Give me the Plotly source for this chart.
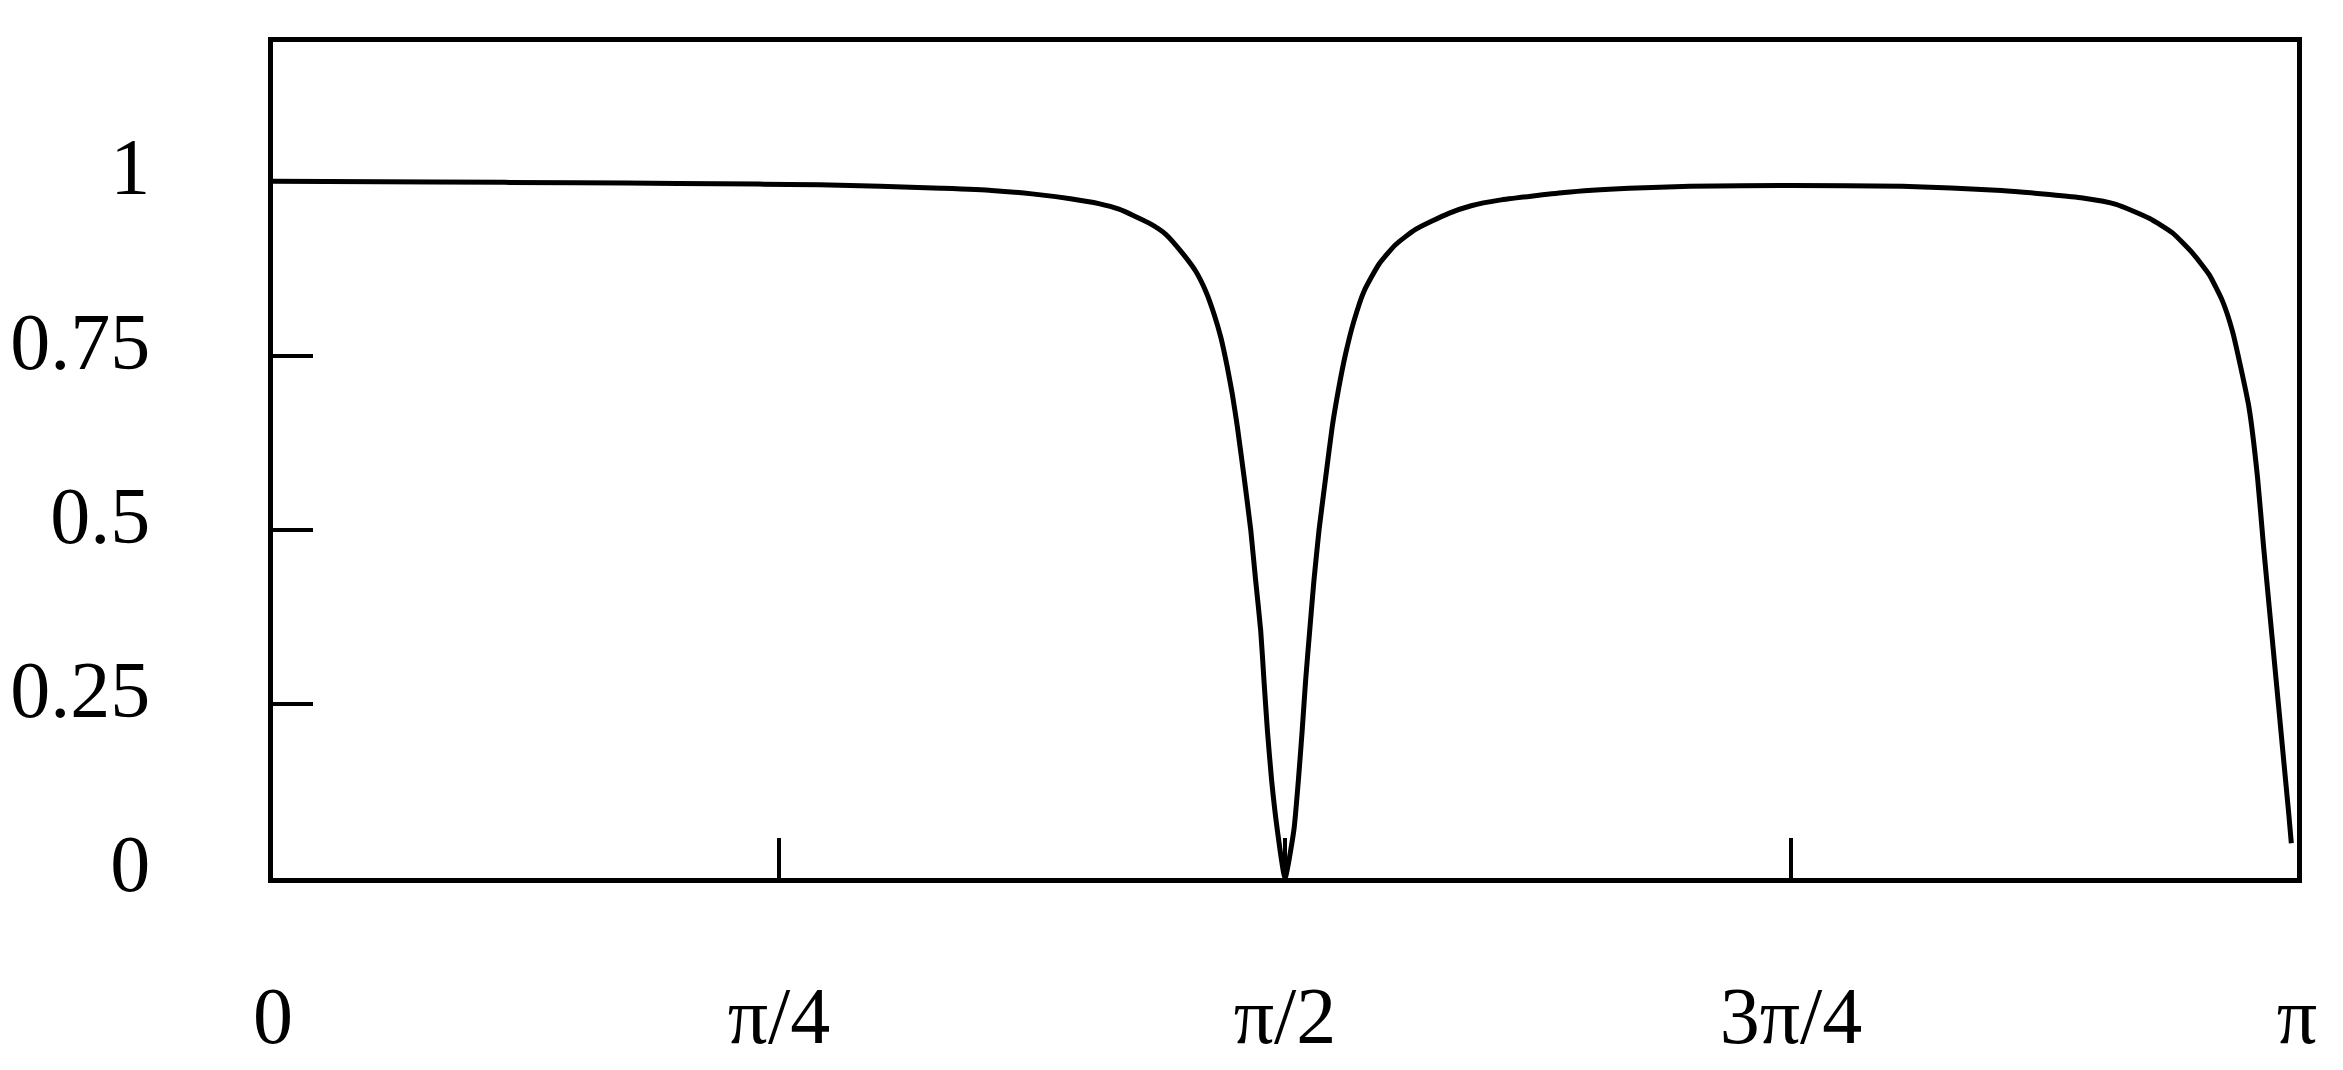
import math

import plotly.graph_objects as go

# curve: x given as fraction of pi, y value
x_over_pi = [
    0.000, 0.080, 0.150, 0.200, 0.240, 0.270, 0.300, 0.330, 0.355, 0.375,
    0.394, 0.408, 0.418, 0.4329, 0.4411, 0.4493, 0.4559, 0.4609, 0.4650, 0.4683,
    0.4715, 0.4740, 0.4765, 0.4798, 0.4831, 0.4855, 0.4880, 0.4896, 0.4913, 0.4934,
    0.4962, 0.5000, 0.5044, 0.5066, 0.5085, 0.5102, 0.5122, 0.5143, 0.5168, 0.5201,
    0.5233, 0.5266, 0.5299, 0.5340, 0.5390, 0.5464, 0.5546, 0.5645, 0.5809, 0.592,
    0.606, 0.638, 0.670, 0.700, 0.750, 0.805, 0.854, 0.8777, 0.8941, 0.9106,
    0.9270, 0.9385, 0.9484, 0.9566, 0.9632, 0.9681, 0.9722, 0.9763, 0.9805, 0.9835,
    0.9866, 0.9897, 0.9928, 0.9959, 0.9972,
]
y_values = [
    1.000, 0.999, 0.998, 0.997, 0.996, 0.995, 0.993, 0.990, 0.987, 0.982,
    0.975, 0.968, 0.960, 0.940, 0.924, 0.897, 0.871, 0.842, 0.809, 0.776,
    0.733, 0.694, 0.647, 0.575, 0.499, 0.427, 0.355, 0.284, 0.212, 0.140,
    0.069, 0.000, 0.069, 0.140, 0.212, 0.284, 0.355, 0.427, 0.499, 0.575,
    0.647, 0.704, 0.752, 0.799, 0.842, 0.881, 0.909, 0.931, 0.954, 0.965,
    0.973, 0.984, 0.990, 0.993, 0.994, 0.993, 0.987, 0.981, 0.976, 0.967,
    0.947, 0.926, 0.897, 0.866, 0.828, 0.785, 0.733, 0.675, 0.575, 0.475,
    0.379, 0.284, 0.188, 0.093, 0.050,
]

x_tick_vals = [0, math.pi / 4, math.pi / 2, 3 * math.pi / 4, math.pi]
x_tick_text = ["0", "π/4", "π/2", "3π/4", "π"]
y_tick_vals = [0, 0.25, 0.5, 0.75, 1]
y_tick_text = ["0", "0.25", "0.5", "0.75", "1"]

FONT = "Liberation Serif, Times New Roman, serif"

x = [v * math.pi for v in x_over_pi]

fig = go.Figure(
    go.Scatter(
        x=x,
        y=y_values,
        mode="lines",
        line=dict(color="black", width=5, shape="spline", smoothing=0.5),
        hoverinfo="skip",
    )
)

axis_common = dict(
    showline=True,
    linecolor="black",
    linewidth=4.5,
    mirror=True,
    showgrid=False,
    zeroline=False,
    automargin=False,
    ticks="inside",
    ticklen=40,
    tickwidth=4,
    tickcolor="black",
    tickfont=dict(family=FONT, size=80, color="black"),
)

fig.update_xaxes(
    range=[0, math.pi],
    tickmode="array",
    tickvals=x_tick_vals,
    ticktext=x_tick_text,
    ticklabelstandoff=64,
    **axis_common,
)
fig.update_yaxes(
    range=[0, 1.2],
    tickmode="array",
    tickvals=y_tick_vals,
    ticktext=y_tick_text,
    ticklabelstandoff=102,
    ticklabelshift=-15,
    **axis_common,
)

# the page body adds a small offset, so the figure is a bit smaller than the window
fig.update_layout(
    width=2335,
    height=1062,
    margin=dict(l=265, r=46, t=34, b=192),
    paper_bgcolor="white",
    plot_bgcolor="white",
    showlegend=False,
    font=dict(family=FONT, color="black"),
)

fig.write_html("out.html")
